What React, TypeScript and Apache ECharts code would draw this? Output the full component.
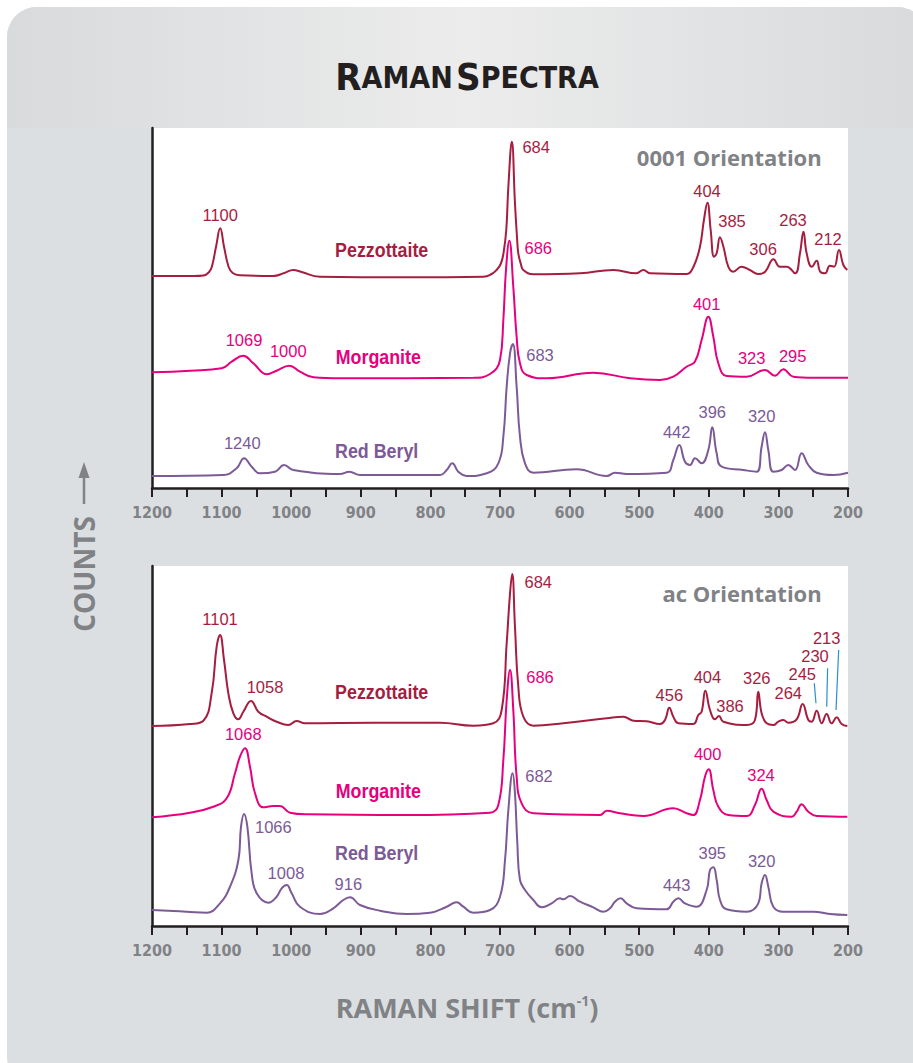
import React, { useEffect, useRef } from "react";
import * as echarts from "echarts";

// ---- colours ----
const PEZ = "#a51d3f";
const MOR = "#e6007e";
const RBE = "#7b5a96";
const GREY = "#808285";
const INK = "#231f20";

// ---- axis ----
const X_MIN = 200;
const X_MAX = 1200;
const X_STEP = 50;
const Y_MAX = 360;

// ---- spectra, [Raman shift cm-1, counts (arbitrary, offset)] ----
// 0001 orientation
const pezz0001 = [[1200,212],[1140,212],[1126,212.5],[1118,216],[1114,221.3],[1108,241.3],[1102,259.7],[1096.5,241.3],[1090,221.3],[1084,215],[1074,212.7],[1026,212],[1010,215],[997,218],[985,216],[959,211.3],[834,210.7],[724,211.3],[712,214],[705,218],[699,224],[695,234.7],[691,258],[688,301.3],[683,346.3],[678.5,284.7],[675.5,250],[673.7,234.7],[670,224],[666.5,218],[652,213.7],[585,214.7],[537,218],[504,214.7],[494,218],[484.5,214.7],[432,214],[422,221.3],[412.7,241.3],[407,268],[402,285.3],[397.3,258],[392.5,231.3],[388.7,234.7],[384,250.7],[379,241.3],[372,221.3],[365,216.3],[353,221.3],[341,218],[329,214],[319,216.3],[307,228.7],[298,221.3],[288,221.3],[276,214.7],[269,234.7],[264,256.3],[259.4,234.7],[252,221.3],[245,227.3],[240,216.3],[233,214.7],[226,222.3],[220,221.3],[213,238],[206.7,223],[201,218]];
const morg0001 = [[1200,115.7],[1145,117.3],[1100,119.7],[1085.5,126.3],[1069,132.3],[1054.4,124.7],[1035,113.7],[1021,117.3],[1002.7,122.3],[987.4,116.3],[968,110.7],[930,109.7],[738,110.3],[714.4,114],[700,128],[695.2,168],[691.4,218],[686.6,247.3],[680.9,201.3],[676.1,151.3],[671.3,124.7],[661.7,113],[633,109.7],[566,115.3],[513,109.7],[470,108],[451,111.3],[432,121.3],[420,126.3],[410.3,148],[400.7,171.3],[393.5,151.3],[386.3,124.7],[374.3,112],[345.6,111.3],[319.3,118],[305,112.3],[293,118.7],[278.6,111.3],[250,110.3],[200,110.3]];
const rbe0001 = [[1200,12],[1097.5,13],[1078.4,19.7],[1067.8,29.7],[1056.8,21.3],[1044.8,14.7],[1023.3,16.3],[1010.3,23],[997,18],[930,14],[916.5,16.3],[901,13],[786,13],[776.6,18],[768.5,24.7],[760,16.3],[748,12],[719,14.7],[702.4,24.7],[695.2,51.3],[690.4,101.3],[685.6,134.7],[681.5,144],[676.1,101.3],[671.3,51.3],[664.1,24.7],[652,15.3],[590,18.7],[546.7,12],[534.8,15.3],[518,14],[460.6,15.3],[451,28],[442.4,43],[434.2,26.3],[427,23],[419.8,29.7],[410.3,24.7],[400.7,38],[395,60.7],[388.7,34.7],[381.5,21.3],[350.4,18],[331.2,16.3],[324.1,41.3],[319.3,55.7],[314.5,38],[307.3,16.3],[295.3,18],[285.8,23],[276.2,18],[266.6,34.7],[257,23],[245,15.3],[221,13],[200,15.3]];

// ac orientation
const pezzAc = [[1200,200],[1145.4,202],[1126.2,205.3],[1114.3,232.7],[1107.1,279.3],[1102.3,291],[1096.5,266],[1090.3,232.7],[1083.1,212.7],[1075.9,206.7],[1068.8,214.3],[1057.8,225],[1047.2,214.3],[1035.2,209.3],[1020.9,204.3],[1004.1,201],[992.2,205],[980.2,202.7],[882,203.3],[786.2,203.3],[738.3,200.3],[709.6,202.7],[697.6,216],[690.4,282.7],[685.6,332.7],[682.5,352],[678.5,299.3],[673.7,239.3],[666.5,209.3],[652.1,200.3],[609,202.7],[546.7,207.7],[522.8,209.3],[508.4,205.3],[489.3,204.7],[470.1,202],[462.9,206],[456.7,218.3],[451,209.3],[443.8,202.7],[422.2,202],[415,211],[410.3,214.3],[405,235.3],[398.3,216],[391.1,206.7],[385.4,210],[379.1,204.3],[345.6,201],[333.7,206],[328.9,234.3],[324.1,212.7],[316.9,202.7],[307.3,201],[300.1,204.3],[292.9,206],[285.8,203.3],[273.8,206.7],[265.2,222],[257,206],[252.2,204.3],[245,215.3],[237.8,202.7],[230.7,212],[223.5,202.7],[216.3,208.7],[209.1,202],[201,200]];
const morgAc = [[1200,108.7],[1145.4,113.3],[1111.9,119.3],[1092.7,127.7],[1080.7,152.7],[1073.6,169.3],[1066.4,177.7],[1059.2,159.3],[1052,132.7],[1040,118.7],[1025.7,120],[1016.1,120],[1001.7,113.3],[977.8,111.7],[834.1,111],[714.4,113.3],[702.4,121],[695.2,166],[690.4,226],[685.6,256],[680.9,216],[676.1,149.3],[668.9,122.7],[652.1,112.7],[556.3,111],[546.7,115.3],[527.6,112.7],[494.1,110],[451,117.7],[431.8,112.7],[422.2,111],[412.7,126],[405.5,149.3],[400.2,156.7],[393.5,136],[386.3,119.3],[372,111],[345.6,110],[333.7,121],[324.1,137.3],[316.9,126],[307.3,114.3],[281,109.3],[273.8,114.3],[266.6,121.7],[257,114.3],[245,110],[201,109.3]];
const rbeAc = [[1200,16],[1150.2,14.3],[1121.5,13.3],[1102.3,22.7],[1087.9,39.3],[1075.9,66],[1072.1,99.3],[1067.8,112],[1063,99.3],[1056.8,52.7],[1049.6,32.7],[1032.9,23.3],[1020.9,29.3],[1013.7,37.7],[1006.5,41],[999.3,32.7],[987.4,19.3],[958.6,12],[939.5,17.7],[925.1,26],[915.5,28.7],[901.2,21],[872.4,15.3],[834.1,12],[800.6,13.3],[776.6,19.3],[762.3,23.7],[752.7,19.3],[738.3,13.3],[714.4,16],[700,29.3],[692.8,66],[688,116],[681.8,152.7],[678.5,132.7],[675.1,82.7],[671.3,46],[664.1,36],[652.1,26],[640.1,18.7],[625.8,22.7],[613.8,27.7],[609,26.7],[599.4,30],[585.1,24.3],[565.9,18.7],[551.5,14.3],[542,17.7],[534.8,24.3],[526.6,27.7],[518,22.7],[503.6,17.7],[460.6,16.7],[451,24.3],[443.8,27.7],[434.2,22.7],[417.5,19.3],[403.1,36],[398.3,56],[393.5,58.7],[388.7,46],[383.9,26],[374.4,16.7],[345.6,14.3],[328.9,22.7],[324.1,42.7],[319.3,51],[314.5,39.3],[307.3,19.3],[292.9,14.3],[249.8,14.3],[225.9,12],[201,11]];

// ---- peak annotations: [text, shift, counts] ----
const pezz0001Peaks = [["1100",1102,273],["684",648,341],["404",402.6,297],["385",366.7,267],["306",322,239],["263",279,268],["212",228.7,249]];
const morg0001Peaks = [["686",645,239.7],["1069",1067.8,148],["1000",1004.2,137],["401",403,183.7],["323",338.4,130.3],["295",279.5,132.3]];
const rbe0001Peaks = [["683",642.5,133],["1240",1070.3,44.7],["442",446.2,56.3],["396",395,75.7],["320",324,72.3]];
const pezzAcPeaks = [["1101",1102.3,306.7],["1058",1037.6,239.3],["684",645,344.3],["456",456.7,231],["404",402,249.3],["386",369.5,220.3],["326",331.1,247.7],["264",285.8,233.3],["245",265.7,252],["230",247.4,270],["213",230.6,288.3]];
const morgAcPeaks = [["686",642.5,249.3],["1068",1068.9,192],["400",401.6,171.7],["324",325,151]];
const rbeAcPeaks = [["682",644,150],["1066",1025.7,99.3],["1008",1007.5,53.3],["916",917.9,41.7],["443",446.2,41],["395",395,72.7],["320",324,65]];
const acLeaders = [[[248.4,242.7],[246,222.7]],[[229.3,257.7],[230.6,219.3]],[[213.4,276],[217.2,216]]];

// ---- mineral name labels: [text, shift, counts] ----
const names0001 = [["Pezzottaite",870,238.7],["Morganite",874.8,131.3],["Red Beryl",877.2,38]];
const namesAc = [["Pezzottaite",870,234.3],["Morganite",874.8,136],["Red Beryl",877.2,73.3]];
const orientations = [["0001 Orientation",237.8,331.3],["ac Orientation",237.8,332.7]];

const COLORS = [PEZ, MOR, RBE];

function textSeries(g: number, list: any[][], styleOf: (k: number) => any) {
  return {
    type: "custom",
    coordinateSystem: "cartesian2d",
    xAxisIndex: g,
    yAxisIndex: g,
    silent: true,
    clip: false,
    z: 6,
    data: list.map(([t, s, v]) => ({ name: t, value: [s, v] })),
    renderItem: (params: any, api: any) => {
      const i = params.dataIndex;
      const p = api.coord([api.value(0), api.value(1)]);
      const st = styleOf(i);
      return {
        type: "text",
        x: p[0],
        y: p[1],
        scaleX: st.scaleX || 1,
        style: {
          text: list[i][0],
          fill: st.fill,
          fontSize: st.fontSize,
          fontFamily: st.fontFamily,
          fontWeight: st.fontWeight || "normal",
          align: st.align || "center",
          verticalAlign: "middle",
        },
      };
    },
  };
}

export default function App() {
  const ref = useRef<HTMLDivElement>(null);
  useEffect(() => {
    if (!ref.current) return;
    const chart = echarts.init(ref.current, null, { renderer: "svg" });

    const grids = [0, 1].map((i) => ({
      left: 152,
      right: 65,
      top: i === 0 ? 128 : 566,
      height: 360,
      show: true,
      backgroundColor: "#ffffff",
      borderWidth: 0,
    }));
    const xAxes = [0, 1].map((i) => ({
      type: "value",
      gridIndex: i,
      min: X_MIN,
      max: X_MAX,
      interval: X_STEP,
      inverse: true,
      axisLine: { show: true, onZero: false, lineStyle: { color: INK, width: 2.5 } },
      axisTick: { show: true, length: 9, lineStyle: { color: INK, width: 2 } },
      axisLabel: {
        formatter: (v: number) => (v % 100 === 0 ? String(v) : ""),
        color: GREY,
        fontFamily: "DejaVu Sans Condensed",
        fontWeight: "bold",
        fontSize: 16,
        margin: 16,
        showMinLabel: true,
        showMaxLabel: true,
      },
      splitLine: { show: false },
    }));
    const yAxes = [0, 1].map((i) => ({
      type: "value",
      gridIndex: i,
      min: 0,
      max: Y_MAX,
      axisLine: { show: true, lineStyle: { color: INK, width: 2.5 } },
      axisTick: { show: false },
      axisLabel: { show: false },
      splitLine: { show: false },
    }));

    const spectra = [
      [pezz0001, morg0001, rbe0001],
      [pezzAc, morgAc, rbeAc],
    ];
    const peaks = [
      [pezz0001Peaks, morg0001Peaks, rbe0001Peaks],
      [pezzAcPeaks, morgAcPeaks, rbeAcPeaks],
    ];
    const names = [names0001, namesAc];

    const series: any[] = [];
    spectra.forEach((group, g) => {
      group.forEach((d, k) => {
        series.push({
          type: "line",
          xAxisIndex: g,
          yAxisIndex: g,
          data: d,
          smooth: 0.45,
          symbol: "none",
          silent: true,
          lineStyle: { color: COLORS[k], width: 2 },
          z: 3,
        });
      });
      peaks[g].forEach((list, k) => {
        series.push(
          textSeries(g, list as any[][], () => ({
            fill: COLORS[k],
            fontSize: 16.5,
            fontFamily: "Liberation Sans",
          }))
        );
      });
      series.push(
        textSeries(g, names[g] as any[][], (i) => ({
          fill: COLORS[i],
          fontSize: 21,
          fontFamily: "Liberation Sans",
          fontWeight: "bold",
          scaleX: 0.85,
        }))
      );
      series.push(
        textSeries(g, [orientations[g]] as any[][], () => ({
          fill: GREY,
          fontSize: 22,
          fontFamily: "Open Sans",
          fontWeight: "bold",
          align: "right",
        }))
      );
    });
    acLeaders.forEach((seg) => {
      series.push({
        type: "line",
        xAxisIndex: 1,
        yAxisIndex: 1,
        data: seg,
        symbol: "none",
        silent: true,
        lineStyle: { color: "#2a8fd0", width: 1.2 },
        z: 4,
      });
    });

    chart.setOption({
      animation: false,
      backgroundColor: "#ffffff",
      grid: grids,
      xAxis: xAxes,
      yAxis: yAxes,
      series,
      graphic: [
        {
          type: "rect",
          z: -10,
          silent: true,
          shape: { x: 7, y: 7, width: 920, height: 1080, r: 30 },
          style: { fill: "#dcdfe2" },
        },
        {
          type: "rect",
          z: -9,
          silent: true,
          shape: { x: 7, y: 7, width: 920, height: 121, r: [30, 30, 0, 0] },
          style: {
            fill: new echarts.graphic.LinearGradient(0, 0, 1, 0, [
              { offset: 0, color: "#d8dadc" },
              { offset: 0.5, color: "#ececec" },
              { offset: 1, color: "#d8dadc" },
            ]),
          },
        },
        {
          type: "text",
          x: 467,
          y: 77,
          z: 10,
          silent: true,
          style: {
            text: "{a|R}{b|AMAN} {a|S}{b|PECTRA}",
            align: "center",
            verticalAlign: "middle",
            fill: INK,
            rich: {
              a: { fontSize: 38, fontFamily: "DejaVu Sans Condensed", fontWeight: "bold", fill: INK, color: INK },
              b: { fontSize: 30, fontFamily: "DejaVu Sans Condensed", fontWeight: "bold", fill: INK, color: INK },
            },
          },
        },
        {
          type: "text",
          x: 84,
          y: 574,
          z: 10,
          silent: true,
          rotation: Math.PI / 2,
          style: {
            text: "COUNTS",
            align: "center",
            verticalAlign: "middle",
            fill: GREY,
            fontSize: 28,
            fontFamily: "Open Sans",
            fontWeight: "bold",
          },
        },
        {
          type: "line",
          z: 10,
          silent: true,
          shape: { x1: 84, y1: 504, x2: 84, y2: 474 },
          style: { stroke: GREY, lineWidth: 2.5 },
        },
        {
          type: "polygon",
          z: 10,
          silent: true,
          shape: { points: [[84, 462], [78.5, 478], [89.5, 478]] },
          style: { fill: GREY },
        },
        {
          type: "text",
          x: 467,
          y: 1007,
          z: 10,
          silent: true,
          style: {
            text: "{m|RAMAN SHIFT (cm}{s|-1}{m|)}",
            align: "center",
            verticalAlign: "middle",
            fill: GREY,
            rich: {
              m: { fontSize: 27, fontFamily: "Open Sans", fontWeight: "bold", fill: GREY, color: GREY },
              s: { fontSize: 14, fontFamily: "Open Sans", fontWeight: "bold", fill: GREY, color: GREY, verticalAlign: "top" },
            },
          },
        },
      ],
    });
    return () => chart.dispose();
  }, []);
  return (
    <div
      ref={ref}
      style={{ position: "absolute", left: 0, top: 0, width: 913, height: 1063 }}
    />
  );
}
